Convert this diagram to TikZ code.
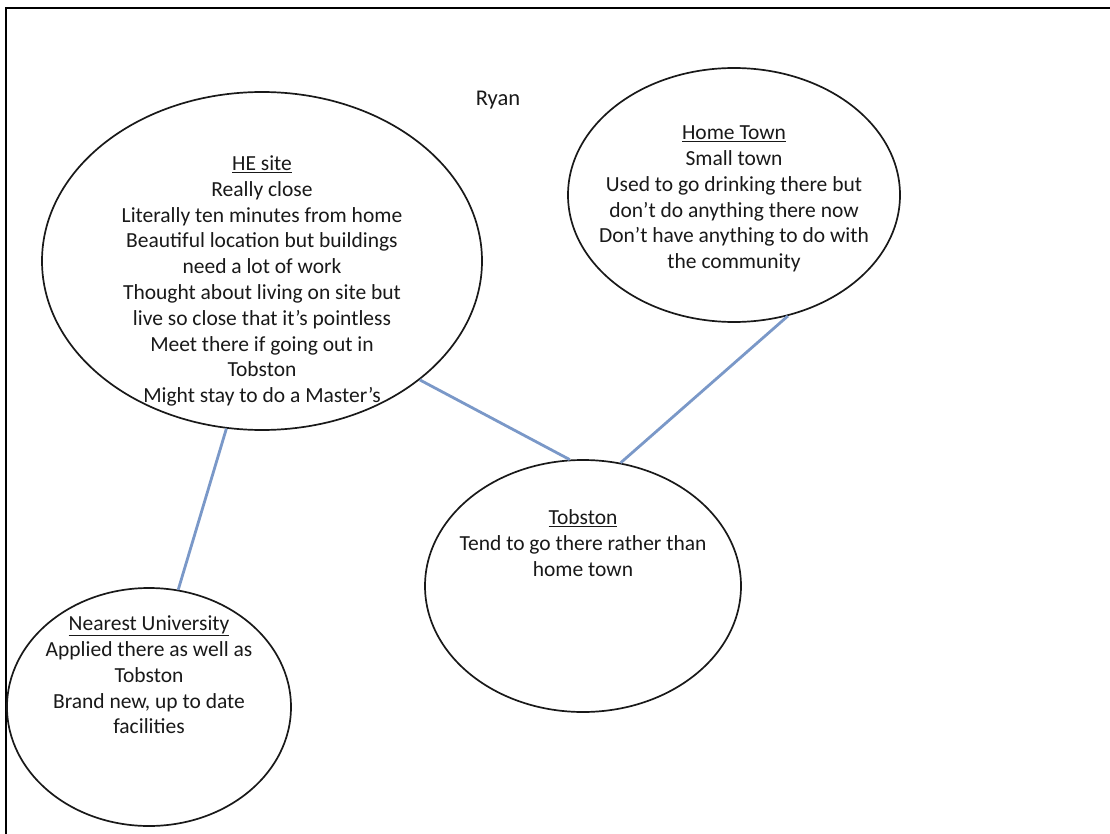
\documentclass[tikz,border=0pt]{standalone}
\usepackage{fontspec}
\setmainfont{Carlito}
\usetikzlibrary{shapes.geometric}
\definecolor{linkblue}{RGB}{122,152,200}
\tikzset{
  bubble/.style={draw=black!90, line width=1.7pt, ellipse, inner sep=0pt},
  bubbletext/.style={align=center, font=\fontsize{21.5}{25.8}\selectfont, text=black!90},
  link/.style={draw=linkblue, line width=2.8pt},
  frame/.style={draw=black, line width=2.4pt}
}
\begin{document}
\begin{tikzpicture}[x=1pt, y=-1pt]
\useasboundingbox (0,0) rectangle (1110,834);
\fill[white] (0,0) rectangle (1110,834);

% page frame (top and left edges)
\coordinate (fr) at (1110,8);
\coordinate (fc) at (6,8);
\coordinate (fb) at (6,834);
\draw[frame] (fr) -- (fc) -- (fb);

% title
\node[bubbletext, font=\fontsize{22.5}{26}\selectfont] (title) at (498,100) {Ryan};

% bubbles
\node[bubble, minimum width=440pt, minimum height=338pt] (he) at (262,261) {};
\node[bubble, minimum width=332pt, minimum height=254pt] (home) at (734,195) {};
\node[bubble, minimum width=316pt, minimum height=252pt] (tob) at (583,586) {};
\node[bubble, minimum width=284pt, minimum height=238pt] (uni) at (149,707) {};

% bubble contents
\node[bubbletext] (hetxt) at (262,281) {\underline{HE site}\\Really close\\Literally ten minutes from home\\Beautiful location but buildings\\need a lot of work\\Thought about living on site but\\live so close that it’s pointless\\Meet there if going out in\\Tobston\\Might stay to do a Master’s};
\node[bubbletext] (hometxt) at (734,199) {\underline{Home Town}\\Small town\\Used to go drinking there but\\don’t do anything there now\\Don’t have anything to do with\\the community};
\node[bubbletext] (tobtxt) at (583,543) {\underline{Tobston}\\Tend to go there rather than\\home town};
\node[bubbletext] (unitxt) at (149,675) {\underline{Nearest University}\\Applied there as well as\\Tobston\\Brand new, up to date\\facilities};

% connectors
\draw[link] (he.-37) -- (tob.96);
\draw[link] (home.-66) -- (tob.73);
\draw[link] (he.-102) -- (uni.76);
\end{tikzpicture}
\end{document}
